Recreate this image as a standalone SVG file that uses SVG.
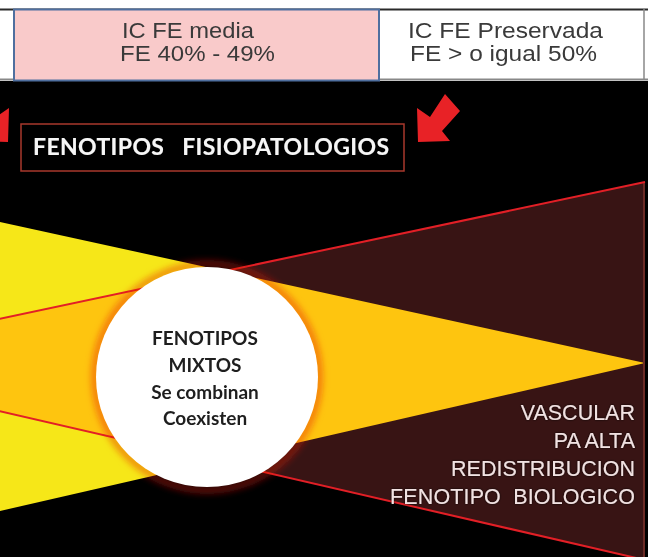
<svg xmlns="http://www.w3.org/2000/svg" width="648" height="557" viewBox="0 0 648 557">
<defs>
<style>
.hdr{font-family:"Liberation Sans",Arial,sans-serif;font-size:22.5px;fill:#3a3a3a}
.ttl{font-family:Lato,"Open Sans",sans-serif;font-weight:700;font-size:23px;fill:#f6f6f6;white-space:pre}
.mix{font-family:Lato,"Open Sans",sans-serif;font-weight:700;font-size:19px;fill:#1e1e1e;text-anchor:middle}
.bio{font-family:"Liberation Sans",Arial,sans-serif;font-size:21.5px;fill:#f1e2e2;text-anchor:end;white-space:pre}
.arrow{fill:#e82226}
.edge{stroke:#e21f26;stroke-width:2;fill:none}
</style>
<clipPath id="redClip"><polygon points="-209,363 645,182 645,560"/></clipPath>
<filter id="blur3" x="-20%" y="-20%" width="140%" height="140%"><feGaussianBlur stdDeviation="3"/></filter>
<filter id="shadow" x="-5%" y="-20%" width="110%" height="140%"><feDropShadow dx="0" dy="0" stdDeviation="0.8" flood-color="#000" flood-opacity="0.9"/></filter>
</defs>
<rect width="648" height="557" fill="#000"/>
<g id="header">
<rect x="0" y="0" width="648" height="81" fill="#fff"/>
<line x1="0" y1="9.5" x2="648" y2="9.5" stroke="#2a2a2a" stroke-width="2"/>
<line x1="0" y1="79.5" x2="648" y2="79.5" stroke="#888" stroke-width="2"/>
<line x1="644" y1="9" x2="644" y2="80" stroke="#888" stroke-width="1.5"/>
</g>
<g id="ic-fe-media">
<rect x="14" y="9.5" width="365" height="71" fill="#f9caca" stroke="#4f6f9f" stroke-width="2"/>
<text class="hdr" x="122" y="38" textLength="132" lengthAdjust="spacingAndGlyphs">IC FE media</text>
<text class="hdr" x="120" y="61" textLength="155" lengthAdjust="spacingAndGlyphs">FE 40% - 49%</text>
</g>
<g id="ic-fe-preservada">
<text class="hdr" x="408" y="38" textLength="195" lengthAdjust="spacingAndGlyphs">IC FE Preservada</text>
<text class="hdr" x="410" y="61" textLength="187" lengthAdjust="spacingAndGlyphs">FE &gt; o igual 50%</text>
</g>
<g id="arrows">
<polygon class="arrow" points="418,142 417,108 430,117 445,94 460,111 442,131 450,141"/>
<polygon class="arrow" points="8,142 9,108 -4,117 -19,94 -34,111 -16,131 -24,141"/>
</g>
<g id="title">
<rect x="21" y="124" width="383" height="47" fill="none" stroke="#a8382c" stroke-width="1.5"/>
<text class="ttl" x="33" y="155" textLength="356" lengthAdjust="spacing" filter="url(#shadow)">FENOTIPOS   FISIOPATOLOGIOS</text>
</g>
<g id="shapes">
<polygon id="yellow" points="0,222 0,511 645,363" fill="#f6e718"/>
<polygon id="maroon" points="-209,363 645,182 645,560" fill="#381414"/>
<polygon id="orange" points="0,222 0,511 645,363" fill="#fec50f" clip-path="url(#redClip)"/>
<line x1="644" y1="182" x2="644" y2="560" stroke="#6b2a25" stroke-width="2"/>
</g>
<g id="connectors">
<line class="edge" x1="-209" y1="363" x2="645" y2="182"/>
<line class="edge" x1="-209" y1="363" x2="645" y2="560"/>
</g>
<g id="fenotipos-mixtos">
<circle cx="207" cy="377" r="113" fill="none" stroke="#5a0a0a" stroke-width="8" filter="url(#blur3)" style="mix-blend-mode:screen"/>
<circle cx="207" cy="377" r="112" fill="none" stroke="#f5a030" stroke-width="8" filter="url(#blur3)" style="mix-blend-mode:multiply"/>
<ellipse cx="207" cy="377" rx="111" ry="110" fill="#fff"/>
<text class="mix" x="205" y="345">FENOTIPOS</text>
<text class="mix" x="205" y="372">MIXTOS</text>
<text class="mix" x="205" y="399">Se combinan</text>
<text class="mix" x="205" y="425">Coexisten</text>
</g>
<g id="fenotipo-biologico" filter="url(#shadow)">
<text class="bio" x="635" y="420">VASCULAR</text>
<text class="bio" x="635" y="448">PA ALTA</text>
<text class="bio" x="635" y="476">REDISTRIBUCION</text>
<text class="bio" x="635" y="504" textLength="245" lengthAdjust="spacing">FENOTIPO  BIOLOGICO</text>
</g>
</svg>
